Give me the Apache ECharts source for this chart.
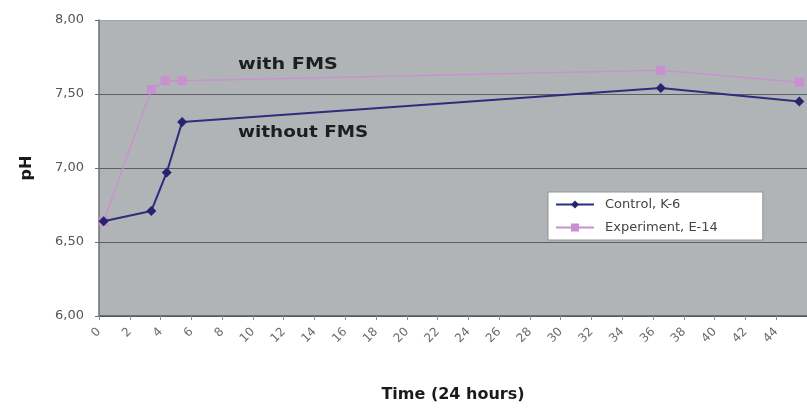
<!DOCTYPE html>
<html>
<head>
<meta charset="utf-8">
<script src="https://cdn.jsdelivr.net/npm/echarts@6/dist/echarts.min.js"></script>
<style>
html,body{margin:0;padding:0;background:#fff;}
#c{width:807px;height:408px;}
</style>
</head>
<body>
<div id="c"></div>
<script>
// Data
var seriesNames = ['Control, K-6', 'Experiment, E-14'];
var controlHours = [0.3, 3.4, 4.4, 5.4, 36.5, 45.5];
var controlPH = [6.64, 6.71, 6.97, 7.31, 7.54, 7.45];
var experimentHours = [0.3, 3.4, 4.3, 5.4, 36.5, 45.5];
var experimentPH = [6.64, 7.53, 7.59, 7.59, 7.66, 7.58];
var annotationTexts = ['with FMS', 'without FMS'];
var xTitle = 'Time (24 hours)';
var yTitle = 'pH';

function pairs(xs, ys) {
  return xs.map(function (x, i) { return [x, ys[i]]; });
}

var FONT = 'DejaVu Sans';
var chart = echarts.init(document.getElementById('c'), null, {renderer: 'canvas'});

chart.setOption({
  animation: false,
  backgroundColor: '#ffffff',
  textStyle: {fontFamily: FONT},
  grid: {
    left: 99, top: 20, right: -6, bottom: 90,
    show: true, backgroundColor: '#b1b4b7', borderWidth: 0
  },
  legend: {
    orient: 'vertical',
    left: 548, top: 192,
    padding: [6, 45, 6, 7],
    itemGap: 10,
    itemWidth: 38, itemHeight: 10,
    backgroundColor: '#ffffff',
    borderColor: '#8f9396', borderWidth: 1,
    textStyle: {fontFamily: FONT, fontSize: 13, color: '#444', padding: [0, 0, 0, 6]},
    data: seriesNames
  },
  xAxis: {
    type: 'value',
    min: 0, max: 46, interval: 2,
    name: xTitle,
    nameLocation: 'middle',
    nameGap: 71,
    nameTextStyle: {fontFamily: FONT, fontWeight: 'bold', fontSize: 16, color: '#1a1a1a'},
    axisLine: {show: true, onZero: false, lineStyle: {color: '#55595c', width: 1.5}},
    axisTick: {show: true, length: 4, lineStyle: {color: '#8a8d90'}},
    axisLabel: {rotate: 45, fontSize: 12, color: '#6a6a6a', margin: 14, showMaxLabel: false, fontFamily: FONT},
    splitLine: {show: false}
  },
  yAxis: {
    type: 'value',
    min: 6, max: 8, interval: 0.5,
    name: yTitle,
    nameLocation: 'middle',
    nameGap: 64,
    nameRotate: 90,
    nameTextStyle: {fontFamily: FONT, fontWeight: 'bold', fontSize: 16, color: '#1a1a1a'},
    axisLine: {show: true, lineStyle: {color: '#6b6f72', width: 1.5}},
    axisTick: {show: true, length: 4, lineStyle: {color: '#6b6f72'}},
    axisLabel: {
      fontSize: 13, color: '#555', margin: 15, fontFamily: FONT,
      formatter: function (v) { return v.toFixed(2).replace('.', ','); }
    },
    splitLine: {show: true, lineStyle: {color: ['#55595c', '#5c6064', '#5c6064', '#5c6064', '#a3a6a8'], width: 1}}
  },
  graphic: [
    {type: 'text', x: 238, y: 57, scaleX: 1.2, z: 100,
     style: {text: annotationTexts[0], font: 'bold 16px "DejaVu Sans"', fill: '#1e1e1e'}},
    {type: 'text', x: 238, y: 125, scaleX: 1.15, z: 100,
     style: {text: annotationTexts[1], font: 'bold 16px "DejaVu Sans"', fill: '#1e1e1e'}}
  ],
  series: [
    {
      name: seriesNames[0],
      type: 'line',
      data: pairs(controlHours, controlPH),
      symbol: 'diamond', symbolSize: 10,
      lineStyle: {color: '#2e2c7c', width: 2},
      itemStyle: {color: '#26246e'},
      z: 3
    },
    {
      name: seriesNames[1],
      type: 'line',
      data: pairs(experimentHours, experimentPH),
      symbol: 'rect', symbolSize: 9,
      lineStyle: {color: '#c892cf', width: 1.5},
      itemStyle: {color: '#c98fd0'},
      z: 2
    }
  ]
});
</script>
</body>
</html>
